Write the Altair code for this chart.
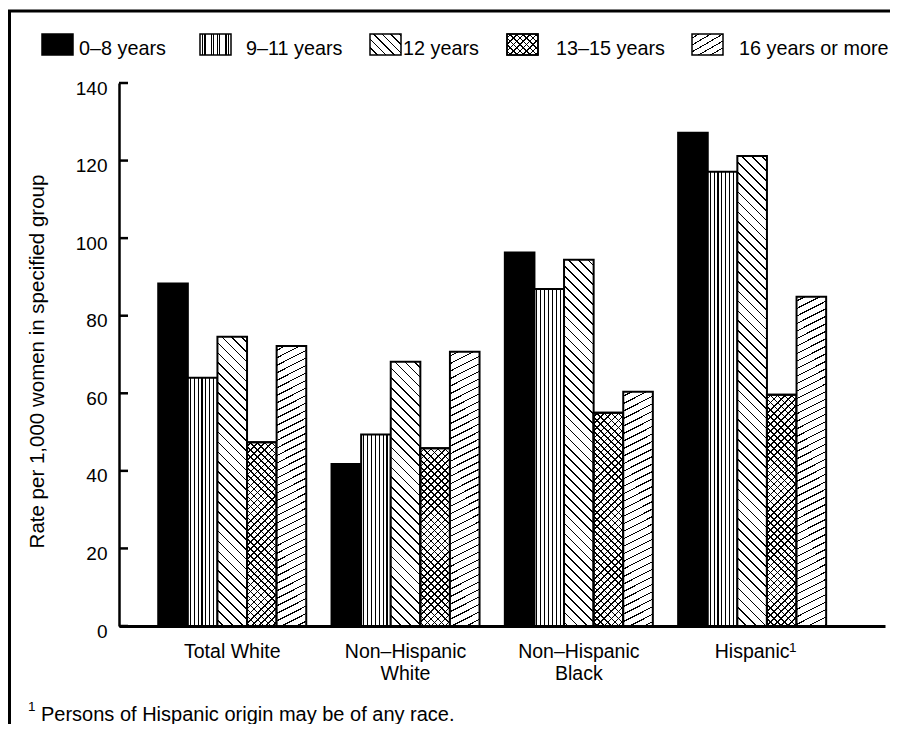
import math
import altair as alt
import pandas as pd

# ---------------- data ----------------
groups = ["Total White", "Non–Hispanic\nWhite", "Non–Hispanic\nBlack", "Hispanic"]
group_note = ["", "", "", "1"]
series = ["0–8 years", "9–11 years", "12 years", "13–15 years", "16 years or more"]
rate_0_8 = [88.3, 41.8, 96.3, 127.2]
rate_9_11 = [64.0, 49.4, 86.9, 117.1]
rate_12 = [74.6, 68.1, 94.4, 121.2]
rate_13_15 = [47.4, 45.8, 55.0, 59.6]
rate_16_plus = [72.2, 70.7, 60.4, 84.9]
y_ticks = [0, 20, 40, 60, 80, 100, 120, 140]
y_title = "Rate per 1,000 women in specified group"
footnote_mark = "1"
footnote_text = "Persons of Hispanic origin may be of any race."

rates = [rate_0_8, rate_9_11, rate_12, rate_13_15, rate_16_plus]

# ---------------- layout / style ----------------
FONT = "Liberation Sans"
W, H = 766, 543
YMAX = 140
PAD = {"left": 111, "top": 75, "right": 5, "bottom": 98}
OX, OY = 8 + PAD["left"], 8 + PAD["top"]  # plot origin on page
BAND_PI, BAND_PO, BAND_ALIGN = 0.146, 0.283, 0.4
step = W / (len(groups) - BAND_PI + 2 * BAND_PO)
bar_w = step * (1 - BAND_PI) / len(series)

legend_swatch_x = [42, 200, 370, 507, 692]
legend_text_x = [79, 246, 403, 556, 739]
legend_top, legend_bottom = 34, 55
SW_W = 31
note_x, note_y = 789, 652  # superscript after "Hispanic"

# hatch styles: (angle of lines in degrees, perpendicular period px, line width px, background)
hatch_bar = [
    None,
    [(90, 3.9, 1.1, "white")],
    [(-45, 7.0, 1.2, "white")],
    [(-45, 5.0, 1.1, "white"), (45, 5.0, 1.1, "rgba(0,0,0,0)")],
    [(27, 6.7, 1.1, "white")],
]
hatch_legend = [
    None,
    [(90, 3.0, 1.0, "white")],
    [(-45, 6.0, 1.1, "white")],
    [(-45, 4.6, 1.0, "white"), (45, 4.6, 1.0, "rgba(0,0,0,0)")],
    [(30, 6.0, 1.0, "white")],
]


def stripes(w, h, angle, period, thick, bg, fg="black"):
    th = math.radians(angle)
    a, b = math.sin(th), math.cos(th)
    corners = [(0, 0), (w, 0), (0, h), (w, h)]
    fv = [a * X + b * Y for X, Y in corners]
    imin = min(range(4), key=lambda i: fv[i])
    fmin, fmax = fv[imin], max(fv)
    span = fmax - fmin
    k = span / (a * a * w * w + b * b * h * h)
    X1, Y1 = corners[imin]
    x1, y1 = X1 / w, Y1 / h
    x2, y2 = x1 + a * w * k, y1 + b * h * k
    stops = [{"offset": 0, "color": bg}]
    j = math.floor(fmin / period)
    while True:
        s = j * period + period / 2
        if s > fmax:
            break
        e = s + thick
        s2, e2 = max(s, fmin), min(e, fmax)
        if e2 > s2:
            o1 = round((s2 - fmin) / span, 5)
            o2 = round((e2 - fmin) / span, 5)
            stops += [
                {"offset": o1, "color": bg},
                {"offset": o1, "color": fg},
                {"offset": o2, "color": fg},
                {"offset": o2, "color": bg},
            ]
        j += 1
    stops.append({"offset": 1, "color": bg})
    return {"gradient": "linear", "x1": round(x1, 5), "y1": round(y1, 5),
            "x2": round(x2, 5), "y2": round(y2, 5), "stops": stops}


# ---------------- encodings ----------------
x_enc = alt.X(
    "group:N",
    scale=alt.Scale(domain=groups, paddingInner=BAND_PI, paddingOuter=BAND_PO, align=BAND_ALIGN),
    axis=alt.Axis(
        title=None, ticks=False, tickSize=0, domainColor="black", domainWidth=3,
        labelAngle=0, labelFont=FONT, labelFontSize=19.5, labelColor="black",
        labelPadding=16, labelLineHeight=22, labelExpr="split(datum.label, '\\n')",
    ),
)
xo_enc = alt.XOffset("series:N", scale=alt.Scale(domain=series, paddingInner=0, paddingOuter=0))
y_enc = alt.Y(
    "rate:Q",
    scale=alt.Scale(domain=[0, YMAX], nice=False, zero=True),
    axis=alt.Axis(
        values=y_ticks, ticks=False, tickSize=0, grid=False, domainColor="black", domainWidth=2.5,
        labelFont=FONT, labelFontSize=19, labelColor="black", labelPadding=12,
        labelBaseline="middle", labelOffset=5,
        title=y_title, titleFont=FONT, titleFontSize=20.5, titleFontWeight="normal",
        titleColor="black", titleAngle=270, titleX=37 - OX, titleY=361 - OY,
        titleAlign="center", titleBaseline="middle",
    ),
)

layers = []
one = pd.DataFrame({"k": [0]})

# bars
for gi, g in enumerate(groups):
    for si, s in enumerate(series):
        v = rates[si][gi]
        row = pd.DataFrame({"group": [g], "series": [s], "rate": [v]})
        h = v / YMAX * H
        if hatch_bar[si] is None:
            layers.append(alt.Chart(row).mark_bar(fill="black", stroke="black", strokeWidth=2)
                          .encode(x=x_enc, xOffset=xo_enc, y=y_enc))
        else:
            for (ang, per, thk, bg) in hatch_bar[si]:
                layers.append(alt.Chart(row).mark_bar(
                    fill=stripes(bar_w, h, ang, per, thk, bg), stroke="black", strokeWidth=2)
                    .encode(x=x_enc, xOffset=xo_enc, y=y_enc))

# inward y ticks
tick_df = pd.DataFrame({"rate": y_ticks})
layers.append(alt.Chart(tick_df).mark_rule(color="black", strokeWidth=2.5)
              .encode(y=y_enc, x=alt.value(0), x2=alt.value(9)))

# superscript note mark on the Hispanic label
layers.append(alt.Chart(one).mark_text(font=FONT, fontSize=13.5, color="black", align="left",
                                       baseline="alphabetic")
              .encode(x=alt.value(note_x - OX), y=alt.value(note_y - OY),
                      text=alt.value(group_note[3])))

# legend
for si, s in enumerate(series):
    sx = legend_swatch_x[si]
    enc = dict(x=alt.value(sx - OX), x2=alt.value(sx + SW_W - OX),
               y=alt.value(legend_top - OY), y2=alt.value(legend_bottom - OY))
    if hatch_legend[si] is None:
        layers.append(alt.Chart(one).mark_rect(fill="black", stroke="black", strokeWidth=1.5).encode(**enc))
    else:
        for (ang, per, thk, bg) in hatch_legend[si]:
            layers.append(alt.Chart(one).mark_rect(
                fill=stripes(SW_W, legend_bottom - legend_top, ang, per, thk, bg),
                stroke="black", strokeWidth=1.5).encode(**enc))
    layers.append(alt.Chart(one).mark_text(
        font=FONT, fontSize=19.8, color="black", align="left", baseline="alphabetic")
        .encode(x=alt.value(legend_text_x[si] - OX), y=alt.value(legend_bottom - OY),
                text=alt.value(s)))

# footnote
layers.append(alt.Chart(one).mark_text(font=FONT, fontSize=13.5, color="black", align="left",
                                       baseline="alphabetic")
              .encode(x=alt.value(28 - OX), y=alt.value(711 - OY), text=alt.value(footnote_mark)))
layers.append(alt.Chart(one).mark_text(font=FONT, fontSize=20, color="black", align="left",
                                       baseline="alphabetic")
              .encode(x=alt.value(41 - OX), y=alt.value(721 - OY), text=alt.value(footnote_text)))

# frame
layers.append(alt.Chart(one).mark_rect(fillOpacity=0, stroke="black", strokeWidth=3)
              .encode(x=alt.value(9.5 - OX), x2=alt.value(905 - OX),
                      y=alt.value(11 - OY), y2=alt.value(760 - OY)))

chart = alt.layer(*layers).properties(
    width=W, height=H, padding=PAD, autosize=alt.AutoSizeParams(type="none"),
    background="white",
).configure_view(stroke=None)

chart.save("out.html", embed_options={"renderer": "svg", "actions": False})
